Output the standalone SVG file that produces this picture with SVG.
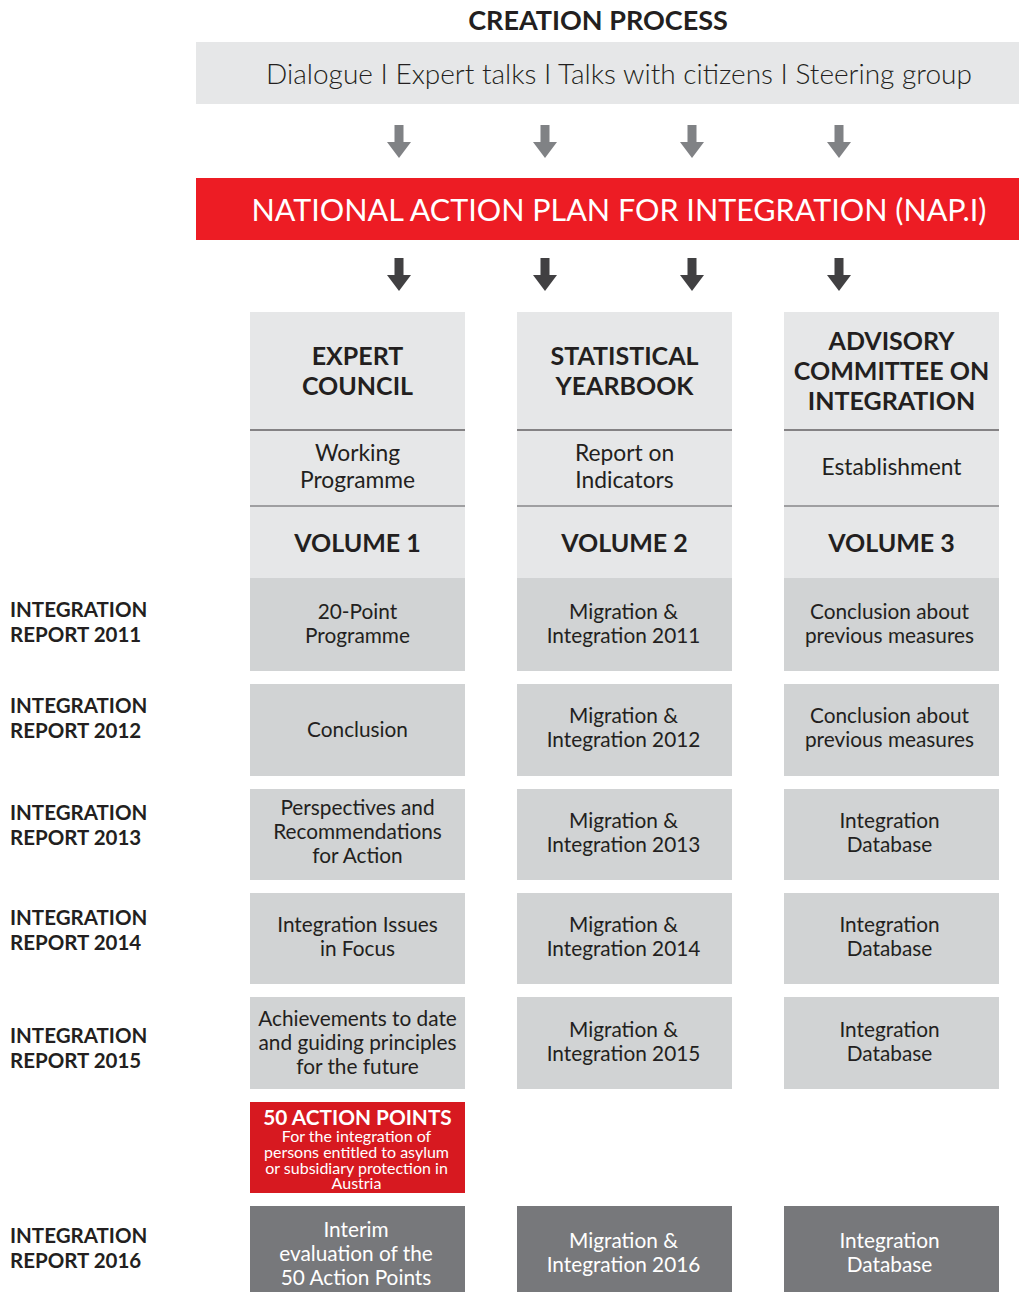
<svg xmlns="http://www.w3.org/2000/svg" width="1019" height="1292" viewBox="0 0 1019 1292">
<style>
text{font-family:Lato,"Liberation Sans",sans-serif;fill:#231f20;text-anchor:middle}
.b{font-weight:700}
.t{font-size:20.8px}
.s{font-size:22.8px}
.h{font-size:25px;font-weight:700}
.lbl{font-size:20.5px;font-weight:700;text-anchor:start}
.w{fill:#fff}
.hdr{fill:#e6e7e8}
.cell{fill:#d1d3d4}
.dark{fill:#77787b}
.ga{fill:#808285}
.da{fill:#414042}
.ln1{stroke:#231f20;stroke-width:1.2}
.ln2{stroke:#58595b;stroke-width:1.2}
</style>
<defs>
<polygon id="arr" points="-4.5,0 4.5,0 4.5,17 12,17 0,33 -12,17 -4.5,17"/>
</defs>
<g id="title"><text x="598" y="30" class="b" style="font-size:27px">CREATION PROCESS</text></g>
<g id="creation">
<rect x="196" y="42" width="823" height="62" class="hdr"/>
<text x="619" y="84" style="font-size:28px;font-weight:300">Dialogue I Expert talks I Talks with citizens I Steering group</text>
</g>
<g id="connectors">
<use href="#arr" x="399" y="125" class="ga"/>
<use href="#arr" x="545" y="125" class="ga"/>
<use href="#arr" x="692" y="125" class="ga"/>
<use href="#arr" x="839" y="125" class="ga"/>
<use href="#arr" x="399" y="258" class="da"/>
<use href="#arr" x="545" y="258" class="da"/>
<use href="#arr" x="692" y="258" class="da"/>
<use href="#arr" x="839" y="258" class="da"/>
</g>
<g id="nap">
<rect x="196" y="178" width="823" height="62" fill="#ed1c24"/>
<text x="619" y="221" class="w" style="font-size:30.5px;font-weight:400">NATIONAL ACTION PLAN FOR INTEGRATION (NAP.I)</text>
</g>
<g id="col1-header">
<rect x="250" y="312" width="215" height="266" class="hdr"/>
<line x1="250" y1="430" x2="465" y2="430" class="ln1"/>
<line x1="250" y1="506" x2="465" y2="506" class="ln2"/>
<text x="357.5" y="365" class="h">EXPERT</text>
<text x="357.5" y="395" class="h">COUNCIL</text>
<text x="357.5" y="461" class="s">Working</text>
<text x="357.5" y="488" class="s">Programme</text>
<text x="357.5" y="552" class="h">VOLUME 1</text>
</g>
<g id="col2-header">
<rect x="517" y="312" width="215" height="266" class="hdr"/>
<line x1="517" y1="430" x2="732" y2="430" class="ln1"/>
<line x1="517" y1="506" x2="732" y2="506" class="ln2"/>
<text x="624.5" y="365" class="h">STATISTICAL</text>
<text x="624.5" y="395" class="h">YEARBOOK</text>
<text x="624.5" y="461" class="s">Report on</text>
<text x="624.5" y="488" class="s">Indicators</text>
<text x="624.5" y="552" class="h">VOLUME 2</text>
</g>
<g id="col3-header">
<rect x="784" y="312" width="215" height="266" class="hdr"/>
<line x1="784" y1="430" x2="999" y2="430" class="ln1"/>
<line x1="784" y1="506" x2="999" y2="506" class="ln2"/>
<text x="891.5" y="350" class="h">ADVISORY</text>
<text x="891.5" y="380" class="h">COMMITTEE ON</text>
<text x="891.5" y="410" class="h">INTEGRATION</text>
<text x="891.5" y="475" class="s">Establishment</text>
<text x="891.5" y="552" class="h">VOLUME 3</text>
</g>
<g id="labels">
<text x="10" y="617" class="lbl">INTEGRATION</text><text x="10" y="642" class="lbl">REPORT 2011</text>
<text x="10" y="713" class="lbl">INTEGRATION</text><text x="10" y="738" class="lbl">REPORT 2012</text>
<text x="10" y="820" class="lbl">INTEGRATION</text><text x="10" y="845" class="lbl">REPORT 2013</text>
<text x="10" y="925" class="lbl">INTEGRATION</text><text x="10" y="950" class="lbl">REPORT 2014</text>
<text x="10" y="1043" class="lbl">INTEGRATION</text><text x="10" y="1068" class="lbl">REPORT 2015</text>
<text x="10" y="1243" class="lbl">INTEGRATION</text><text x="10" y="1268" class="lbl">REPORT 2016</text>
</g>
<g id="r2011">
<rect x="250" y="578" width="215" height="93" class="cell"/>
<rect x="517" y="578" width="215" height="93" class="cell"/>
<rect x="784" y="578" width="215" height="93" class="cell"/>
<text x="357.5" y="619" class="t">20-Point</text><text x="357.5" y="643" class="t">Programme</text>
<text x="623.5" y="619" class="t">Migration &amp;</text><text x="623.5" y="643" class="t">Integration 2011</text>
<text x="889.5" y="619" class="t">Conclusion about</text><text x="889.5" y="643" class="t">previous measures</text>
</g>
<g id="r2012">
<rect x="250" y="684" width="215" height="92" class="cell"/>
<rect x="517" y="684" width="215" height="92" class="cell"/>
<rect x="784" y="684" width="215" height="92" class="cell"/>
<text x="357.5" y="737" class="t">Conclusion</text>
<text x="623.5" y="723" class="t">Migration &amp;</text><text x="623.5" y="747" class="t">Integration 2012</text>
<text x="889.5" y="723" class="t">Conclusion about</text><text x="889.5" y="747" class="t">previous measures</text>
</g>
<g id="r2013">
<rect x="250" y="789" width="215" height="91" class="cell"/>
<rect x="517" y="789" width="215" height="91" class="cell"/>
<rect x="784" y="789" width="215" height="91" class="cell"/>
<text x="357.5" y="815" class="t">Perspectives and</text><text x="357.5" y="839" class="t">Recommendations</text><text x="357.5" y="863" class="t">for Action</text>
<text x="623.5" y="828" class="t">Migration &amp;</text><text x="623.5" y="852" class="t">Integration 2013</text>
<text x="889.5" y="828" class="t">Integration</text><text x="889.5" y="852" class="t">Database</text>
</g>
<g id="r2014">
<rect x="250" y="893" width="215" height="91" class="cell"/>
<rect x="517" y="893" width="215" height="91" class="cell"/>
<rect x="784" y="893" width="215" height="91" class="cell"/>
<text x="357.5" y="932" class="t">Integration Issues</text><text x="357.5" y="956" class="t">in Focus</text>
<text x="623.5" y="932" class="t">Migration &amp;</text><text x="623.5" y="956" class="t">Integration 2014</text>
<text x="889.5" y="932" class="t">Integration</text><text x="889.5" y="956" class="t">Database</text>
</g>
<g id="r2015">
<rect x="250" y="997" width="215" height="92" class="cell"/>
<rect x="517" y="997" width="215" height="92" class="cell"/>
<rect x="784" y="997" width="215" height="92" class="cell"/>
<text x="357.5" y="1026" class="t">Achievements to date</text><text x="357.5" y="1050" class="t">and guiding principles</text><text x="357.5" y="1074" class="t">for the future</text>
<text x="623.5" y="1037" class="t">Migration &amp;</text><text x="623.5" y="1061" class="t">Integration 2015</text>
<text x="889.5" y="1037" class="t">Integration</text><text x="889.5" y="1061" class="t">Database</text>
</g>
<g id="action-points">
<rect x="250" y="1102" width="215" height="91" fill="#d71920"/>
<text x="357.5" y="1125" class="w b" style="font-size:20.8px">50 ACTION POINTS</text>
<text x="356.5" y="1142" class="w" style="font-size:16px">For the integration of</text>
<text x="356.5" y="1158" class="w" style="font-size:16px">persons entitled to asylum</text>
<text x="356.5" y="1174" class="w" style="font-size:16px">or subsidiary protection in</text>
<text x="356.5" y="1189" class="w" style="font-size:16px">Austria</text>
</g>
<g id="r2016">
<rect x="250" y="1206" width="215" height="86" class="dark"/>
<rect x="517" y="1206" width="215" height="86" class="dark"/>
<rect x="784" y="1206" width="215" height="86" class="dark"/>
<text x="356" y="1237" class="t w">Interim</text><text x="356" y="1261" class="t w">evaluation of the</text><text x="356" y="1285" class="t w">50 Action Points</text>
<text x="623.5" y="1248" class="t w">Migration &amp;</text><text x="623.5" y="1272" class="t w">Integration 2016</text>
<text x="889.5" y="1248" class="t w">Integration</text><text x="889.5" y="1272" class="t w">Database</text>
</g>
</svg>
